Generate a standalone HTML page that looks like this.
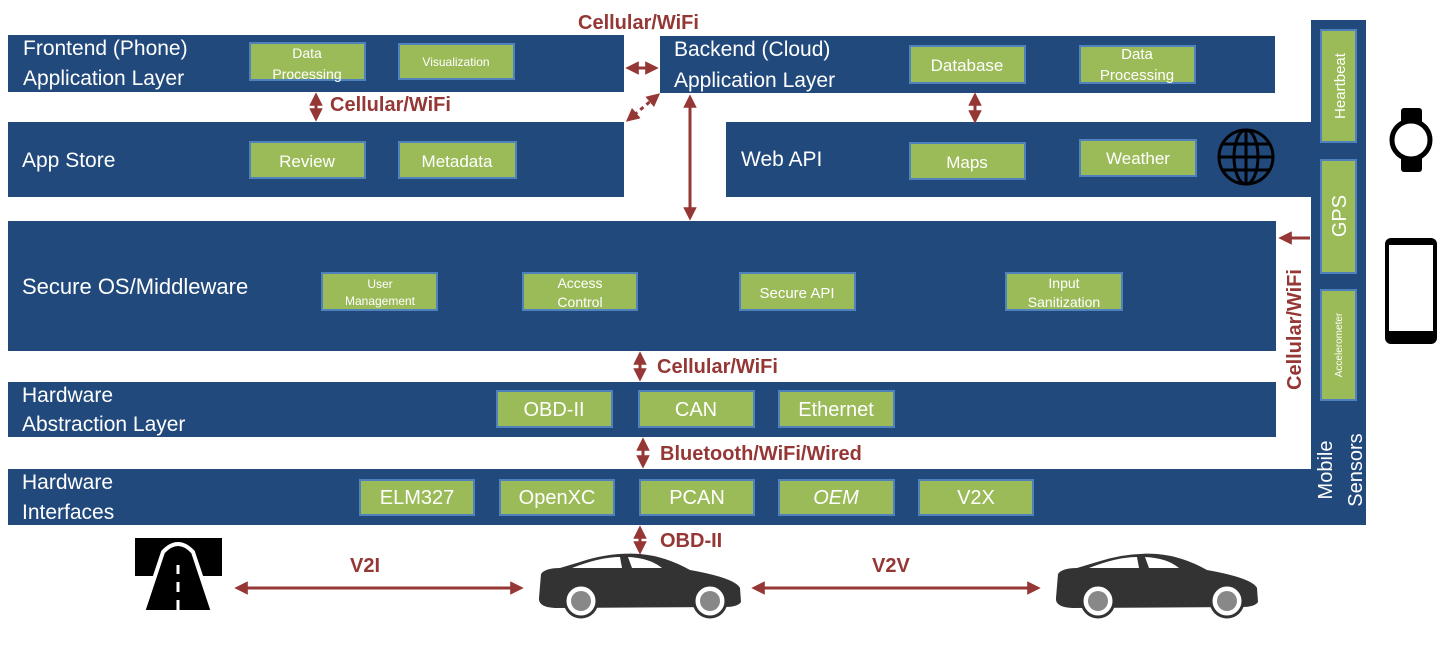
<!DOCTYPE html>
<html><head><meta charset="utf-8"><style>
body{margin:0;background:#fff;}
svg text{font-family:"Liberation Sans",sans-serif;}
</style></head><body>
<svg width="1447" height="658" viewBox="0 0 1447 658" xmlns="http://www.w3.org/2000/svg">
<defs>
<marker id="a" viewBox="0 0 10 10" refX="8" refY="5" markerWidth="4.5" markerHeight="4.5" orient="auto-start-reverse"><path d="M0,0L10,5L0,10z" fill="#953735"/></marker>
</defs>
<g fill="#21497b">
<rect x="8" y="35" width="616" height="57"/>
<rect x="660" y="36" width="615" height="57"/>
<rect x="8" y="122" width="616" height="75"/>
<rect x="726" y="122" width="590" height="75"/>
<rect x="8" y="221" width="1268" height="130"/>
<rect x="8" y="382" width="1268" height="55"/>
<rect x="8" y="469" width="1308" height="56"/>
<rect x="1311" y="20" width="55" height="505"/>
</g>
<g fill="#fff" font-size="21">
<text x="23" y="55">Frontend (Phone)</text>
<text x="23" y="85">Application Layer</text>
<text x="674" y="56">Backend (Cloud)</text>
<text x="674" y="87">Application Layer</text>
<text x="22" y="167">App Store</text>
<text x="741" y="166">Web API</text>
<text x="22" y="294" font-size="22">Secure OS/Middleware</text>
<text x="22" y="402">Hardware</text>
<text x="22" y="431">Abstraction Layer</text>
<text x="22" y="489">Hardware</text>
<text x="22" y="519">Interfaces</text>
</g>
<g fill="#9bbb59" stroke="#4f81bd" stroke-width="2">
<rect x="250" y="43" width="115" height="37"/><rect x="399" y="44" width="115" height="35"/>
<rect x="250" y="142" width="115" height="36"/><rect x="399" y="142" width="117" height="36"/>
<rect x="910" y="46" width="115" height="37"/><rect x="1080" y="46" width="115" height="37"/>
<rect x="910" y="143" width="115" height="36"/><rect x="1080" y="140" width="116" height="36"/>
<rect x="322" y="273" width="115" height="37"/><rect x="523" y="273" width="114" height="37"/>
<rect x="740" y="273" width="115" height="37"/><rect x="1006" y="273" width="116" height="37"/>
<rect x="497" y="391" width="115" height="36"/><rect x="639" y="391" width="115" height="36"/><rect x="779" y="391" width="115" height="36"/>
<rect x="360" y="480" width="114" height="35"/><rect x="500" y="480" width="114" height="35"/><rect x="640" y="480" width="114" height="35"/><rect x="779" y="480" width="115" height="35"/><rect x="919" y="480" width="114" height="35"/>
<rect x="1321" y="30" width="35" height="112"/><rect x="1321" y="160" width="35" height="113"/><rect x="1321" y="290" width="35" height="110"/>
</g>
<g fill="#fff" text-anchor="middle" font-size="17">
<text x="307" y="58" font-size="14">Data</text><text x="307" y="79" font-size="14">Processing</text>
<text x="456" y="66" font-size="12">Visualization</text>
<text x="307" y="167">Review</text><text x="457" y="167">Metadata</text>
<text x="967" y="71">Database</text>
<text x="1137" y="59" font-size="15">Data</text><text x="1137" y="80" font-size="15">Processing</text>
<text x="967" y="168">Maps</text><text x="1138" y="164">Weather</text>
<text x="380" y="288" font-size="12">User</text><text x="380" y="305" font-size="12">Management</text>
<text x="580" y="288" font-size="14">Access</text><text x="580" y="307" font-size="14">Control</text>
<text x="797" y="298" font-size="15">Secure API</text>
<text x="1064" y="288" font-size="14">Input</text><text x="1064" y="307" font-size="14">Sanitization</text>
<text x="554" y="416" font-size="20">OBD-II</text><text x="696" y="416" font-size="20">CAN</text><text x="836" y="416" font-size="20">Ethernet</text>
<text x="417" y="504" font-size="20">ELM327</text><text x="557" y="504" font-size="20">OpenXC</text><text x="697" y="504" font-size="20">PCAN</text><text x="836" y="504" font-size="20" font-style="italic">OEM</text><text x="976" y="504" font-size="20">V2X</text>
<text transform="translate(1345,86) rotate(-90)" font-size="15">Heartbeat</text>
<text transform="translate(1346,216) rotate(-90)" font-size="20">GPS</text>
<text transform="translate(1342,345) rotate(-90)" font-size="10">Accelerometer</text>
<text transform="translate(1332,470) rotate(-90)" font-size="20">Mobile</text>
<text transform="translate(1362,470) rotate(-90)" font-size="20">Sensors</text>
</g>
<g stroke="#953735" stroke-width="3" fill="none" marker-start="url(#a)" marker-end="url(#a)">
<line x1="628" y1="68" x2="656" y2="68"/>
<line x1="316" y1="95" x2="316" y2="119"/>
<line x1="628" y1="120" x2="658" y2="95" stroke-dasharray="4,4"/>
<line x1="690" y1="97" x2="690" y2="218"/>
<line x1="975" y1="95" x2="975" y2="121"/>
<line x1="640" y1="354" x2="640" y2="379"/>
<line x1="643" y1="440" x2="643" y2="466"/>
<line x1="640" y1="528" x2="640" y2="552"/>
<line x1="237" y1="588" x2="521" y2="588"/>
<line x1="754" y1="588" x2="1038" y2="588"/>
</g>
<line x1="1310" y1="238" x2="1281" y2="238" stroke="#953735" stroke-width="3" marker-end="url(#a)"/>
<g fill="#953735" font-weight="bold" font-size="20">
<text x="578" y="29">Cellular/WiFi</text>
<text x="330" y="111">Cellular/WiFi</text>
<text x="657" y="373">Cellular/WiFi</text>
<text x="660" y="460">Bluetooth/WiFi/Wired</text>
<text x="660" y="547">OBD-II</text>
<text x="350" y="572">V2I</text>
<text x="872" y="572">V2V</text>
<text transform="translate(1301,390) rotate(-90)">Cellular/WiFi</text>
</g>
<g stroke="#000" stroke-width="3" fill="none">
<circle cx="1246" cy="157" r="27"/><ellipse cx="1246" cy="157" rx="12" ry="27"/>
<line x1="1246" y1="130" x2="1246" y2="184"/><line x1="1219" y1="157" x2="1273" y2="157"/>
<line x1="1223" y1="144" x2="1269" y2="144"/><line x1="1223" y1="170" x2="1269" y2="170"/>
</g>
<rect x="1401" y="108" width="21" height="64" rx="3" fill="#000"/>
<circle cx="1411" cy="140" r="19" fill="#fff" stroke="#000" stroke-width="5"/>
<rect x="1385" y="238" width="52" height="106" rx="6" fill="#000"/>
<rect x="1389" y="245" width="44" height="86" fill="#fff"/>
<rect x="135" y="538" width="87" height="38" fill="#000"/>
<path d="M143,612 L163,552 Q178,536 193,552 L213,612z" fill="#000" stroke="#fff" stroke-width="4"/>
<g stroke="#fff" stroke-width="3"><line x1="178" y1="565" x2="178" y2="574"/><line x1="178" y1="582" x2="178" y2="592"/><line x1="178" y1="600" x2="178" y2="610"/></g>
<g id="car">
<path d="M541,574 Q545,568 560,568 L580,562 Q610,552 640,554 Q665,556 690,570 Q735,578 740,588 L741,602 Q738,607 725,607 L555,608 Q538,607 539,598z" fill="#333"/>
<path d="M572,568 Q600,557 620,557 L622,568z M628,557 Q650,558 662,568 L632,568z" fill="#fff"/>
<circle cx="581" cy="601" r="16" fill="#fff" stroke="#333" stroke-width="3"/><circle cx="581" cy="601" r="10" fill="#888"/>
<circle cx="710" cy="601" r="16" fill="#fff" stroke="#333" stroke-width="3"/><circle cx="710" cy="601" r="10" fill="#888"/>
</g>
<use href="#car" transform="translate(517,0)"/>
</svg>
</body></html>
